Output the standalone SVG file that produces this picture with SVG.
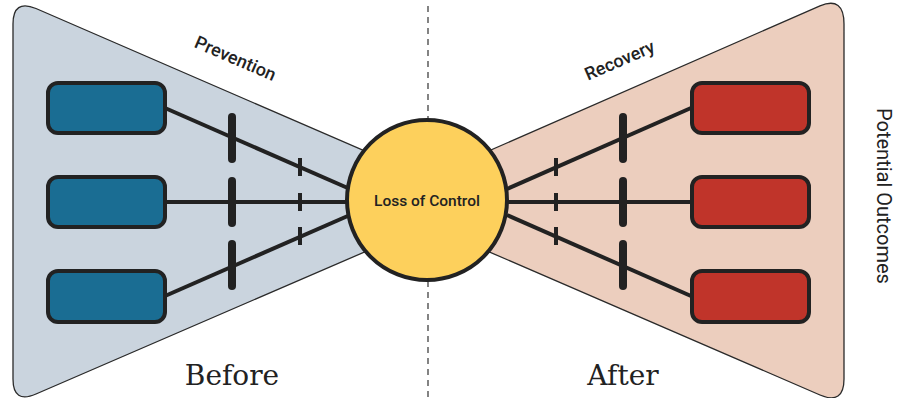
<svg xmlns="http://www.w3.org/2000/svg" width="908" height="398" viewBox="0 0 908 398">
<style>
.trap{stroke:#2a2a2a;stroke-width:1.3}
.box{stroke:#222;stroke-width:4}
.blue{fill:#1a6d93}
.red{fill:#c0342a}
.conn{stroke:#222;stroke-width:4;fill:none}
.big{stroke:#222;stroke-width:8;stroke-linecap:round}
.small{stroke:#222;stroke-width:4}
.lbl{font-family:Roboto,"Liberation Sans",sans-serif;font-weight:500;font-size:18px;fill:#222}
.phase{font-family:"DejaVu Serif","Liberation Serif",serif;font-size:28px;fill:#222}
</style>
<rect width="908" height="398" fill="#fff"/>
<g id="before-zone">
<path class="trap" fill="#cad4de" d="M13,24 Q13,-1 36,8.5 L427,178 L427,225 L36,394 Q13,404 13,379 Z"/>
</g>
<g id="after-zone">
<path class="trap" fill="#eccebe" d="M844,24 Q844,-4 820,5.8 L427,178 L427,225 L820,395 Q844,405 844,379 Z"/>
</g>
<line x1="428" y1="6" x2="428" y2="398" stroke="#333" stroke-width="1.2" stroke-dasharray="6,5"/>
<g id="connectors">
<path class="conn" d="M165,108 L350,189"/>
<path class="conn" d="M165,202 L350,202"/>
<path class="conn" d="M165,296 L350,215"/>
<path class="conn" d="M507,189 L691,108"/>
<path class="conn" d="M507,202 L691,202"/>
<path class="conn" d="M507,215 L691,296"/>
<line class="big" x1="232" y1="117" x2="232" y2="159"/>
<line class="big" x1="232" y1="181" x2="232" y2="223"/>
<line class="big" x1="232" y1="244" x2="232" y2="286"/>
<line class="small" x1="300" y1="158" x2="300" y2="176"/>
<line class="small" x1="300" y1="193" x2="300" y2="211"/>
<line class="small" x1="300" y1="227" x2="300" y2="245"/>
<line class="small" x1="556" y1="158" x2="556" y2="176"/>
<line class="small" x1="556" y1="193" x2="556" y2="211"/>
<line class="small" x1="556" y1="227" x2="556" y2="245"/>
<line class="big" x1="623" y1="117" x2="623" y2="159"/>
<line class="big" x1="623" y1="181" x2="623" y2="223"/>
<line class="big" x1="623" y1="244" x2="623" y2="286"/>
</g>
<g id="cause1"><rect class="box blue" x="48" y="83" width="117" height="50" rx="10"/></g>
<g id="cause2"><rect class="box blue" x="48" y="177" width="117" height="50" rx="10"/></g>
<g id="cause3"><rect class="box blue" x="48" y="271" width="117" height="51" rx="10"/></g>
<g id="outcome1"><rect class="box red" x="692" y="83" width="117" height="50" rx="10"/></g>
<g id="outcome2"><rect class="box red" x="692" y="177" width="117" height="50" rx="10"/></g>
<g id="outcome3"><rect class="box red" x="692" y="271" width="117" height="51" rx="10"/></g>
<g id="event">
<circle cx="427" cy="200" r="80" fill="#fdd05c" stroke="#222" stroke-width="4"/>
<text x="427" y="206" text-anchor="middle" font-family="Roboto,'Liberation Sans',sans-serif" font-weight="500" font-size="15.5" fill="#222">Loss of Control</text>
</g>
<text class="lbl" transform="translate(233,64) rotate(23.4)" text-anchor="middle">Prevention</text>
<text class="lbl" transform="translate(622,66) rotate(-23.4)" text-anchor="middle">Recovery</text>
<text class="phase" x="232" y="385" text-anchor="middle">Before</text>
<text class="phase" x="623" y="385" text-anchor="middle">After</text>
<text transform="translate(877,196) rotate(90)" text-anchor="middle" font-family="Roboto,'Liberation Sans',sans-serif" font-size="20" fill="#222">Potential Outcomes</text>
</svg>
